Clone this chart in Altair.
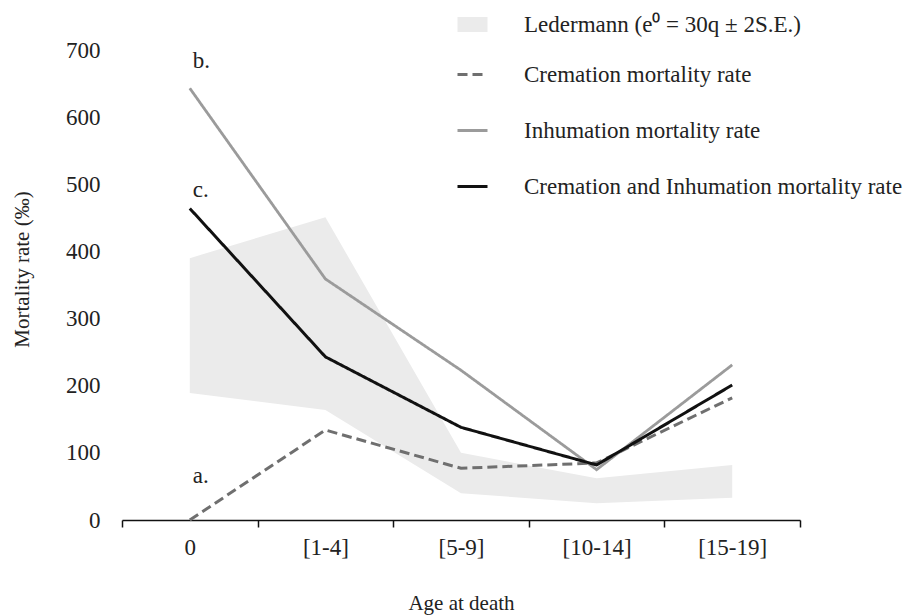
import altair as alt
import pandas as pd

# Age classes at death
ages = ["0", "[1-4]", "[5-9]", "[10-14]", "[15-19]"]

# Mortality rates (per mille)
cremation = [0, 134, 77, 85, 182]
inhumation = [643, 359, 223, 75, 231]
combined = [464, 243, 138, 82, 201]

# Ledermann model band (e0 = 30, q +/- 2 S.E.)
ledermann_low = [189, 164, 40, 25, 33]
ledermann_high = [390, 451, 100, 62, 82]

series_names = [
    "Ledermann (e⁰ = 30q  ± 2S.E.)",
    "Cremation mortality rate",
    "Inhumation mortality rate",
    "Cremation and Inhumation mortality rate",
]
series_colors = ["#ebebeb", "#6f6f6f", "#9b9b9b", "#111111"]
series_dash = [[1, 0], [10, 5], [1, 0], [1, 0]]
series_width = [15, 3, 2.8, 3]

y_ticks = [0, 100, 200, 300, 400, 500, 600, 700]

FONT = "Liberation Serif"
TEXT = "#222222"

band_df = pd.DataFrame({"age": ages, "low": ledermann_low, "high": ledermann_high})
lines_df = pd.concat(
    [
        pd.DataFrame({"age": ages, "rate": vals, "series": name})
        for name, vals in zip(series_names[1:], [cremation, inhumation, combined])
    ],
    ignore_index=True,
)

x_scale = alt.Scale(type="band", domain=ages, paddingInner=0, paddingOuter=0)
y_scale = alt.Scale(domain=[0, 700], nice=False)

x_axis = alt.Axis(
    title="Age at death", labelAngle=0, tickBand="extent", tickSize=7,
    tickWidth=1.5, tickColor="#111", domainColor="#111", domainWidth=1.5,
    labelPadding=9, labelFontSize=23, labelFont=FONT, labelColor=TEXT,
    titleFont=FONT, titleFontSize=21, titleFontWeight="normal", titleColor=TEXT,
    titleX=339, titleY=83, titleBaseline="middle", titleAlign="center",
)
y_axis = alt.Axis(
    title="Mortality rate (‰)", values=y_ticks, grid=False, domain=False,
    ticks=False, tickSize=0, labelPadding=22, labelFontSize=23, labelFont=FONT,
    labelColor=TEXT, titleFont=FONT, titleFontSize=21, titleFontWeight="normal",
    titleColor=TEXT, titleAngle=-90, titleX=-100, titleY=219,
    titleAlign="center", titleBaseline="middle",
)

legend = alt.Legend(
    orient="none", legendX=328, legendY=-48, title=None, symbolType="stroke",
    symbolSize=900, labelOffset=29, labelFontSize=23, labelFont=FONT,
    labelColor=TEXT, rowPadding=3, padding=0, labelLimit=0, gridAlign="all",
)

x_enc = alt.X("age:N", scale=x_scale, axis=x_axis)

band = alt.Chart(band_df).mark_area(color="#ebebeb", opacity=1).encode(
    x=x_enc,
    y=alt.Y("low:Q", scale=y_scale, axis=y_axis),
    y2="high:Q",
)

lines = alt.Chart(lines_df).mark_line(strokeJoin="miter").encode(
    x=x_enc,
    y=alt.Y("rate:Q", scale=y_scale, axis=y_axis),
    color=alt.Color("series:N", scale=alt.Scale(domain=series_names, range=series_colors), legend=legend),
    strokeDash=alt.StrokeDash("series:N", scale=alt.Scale(domain=series_names, range=series_dash), legend=legend),
    strokeWidth=alt.StrokeWidth("series:N", scale=alt.Scale(type="ordinal", domain=series_names, range=series_width), legend=legend),
    order=alt.Order("series:N"),
)


def tag(label, values, dy):
    df = pd.DataFrame({"age": [ages[0]], "rate": [values[0]], "tag": [label]})
    return alt.Chart(df).mark_text(
        align="left", baseline="alphabetic", dx=3, dy=dy,
        font=FONT, fontSize=23, color=TEXT,
    ).encode(
        x=x_enc,
        y=alt.Y("rate:Q", scale=y_scale, axis=y_axis),
        text="tag:N",
    )


chart = alt.layer(
    band,
    lines,
    tag("a.", cremation, -37),
    tag("b.", inhumation, -20),
    tag("c.", combined, -11),
).properties(
    width=678,
    height=470,
    autosize=alt.AutoSizeParams(type="none"),
    padding={"left": 122, "top": 50, "right": 105, "bottom": 96},
    background="white",
).configure_view(stroke=None)

chart.save("out.html", embed_options={"renderer": "svg", "actions": False})
